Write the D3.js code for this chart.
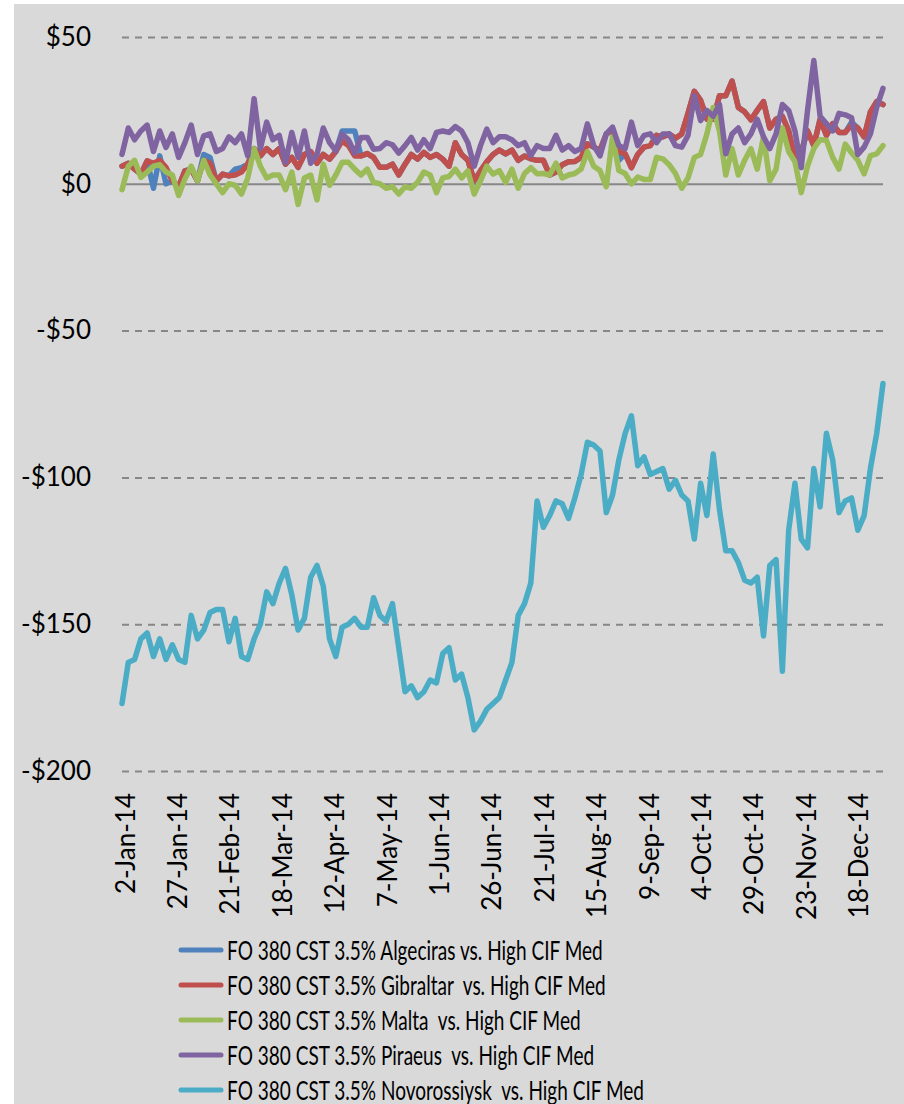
<!DOCTYPE html>
<html lang="en">
<head>
<meta charset="utf-8" />
<title>FO 380 CST 3.5% vs. High CIF Med</title>
<script src="https://d3js.org/d3.v7.min.js"></script>
<style>
    body { margin: 0; background: #fff; }
    svg text { font-family: Lato, "Liberation Sans", sans-serif; fill: #000; }
    .legend text { white-space: pre; }
</style>
</head>
<body>
<svg id="chart" width="904" height="1104"></svg>
<script>
    // sampled every 3 days, 2014
    const dates = [
        "01-02","01-05","01-08","01-11","01-14","01-17","01-20","01-23","01-26","01-29",
        "02-01","02-04","02-07","02-10","02-13","02-16","02-19","02-22","02-25","02-28",
        "03-03","03-06","03-09","03-12","03-15","03-18","03-21","03-24","03-27","03-30",
        "04-02","04-05","04-08","04-11","04-14","04-17","04-20","04-23","04-26","04-29",
        "05-02","05-05","05-08","05-11","05-14","05-17","05-20","05-23","05-26","05-29",
        "06-01","06-04","06-07","06-10","06-13","06-16","06-19","06-22","06-25","06-28",
        "07-01","07-04","07-07","07-10","07-13","07-16","07-19","07-22","07-25","07-28","07-31",
        "08-03","08-06","08-09","08-12","08-15","08-18","08-21","08-24","08-27","08-30",
        "09-02","09-05","09-08","09-11","09-14","09-17","09-20","09-23","09-26","09-29",
        "10-02","10-05","10-08","10-11","10-14","10-17","10-20","10-23","10-26","10-29",
        "11-01","11-04","11-07","11-10","11-13","11-16","11-19","11-22","11-25","11-28",
        "12-01","12-04","12-07","12-10","12-13","12-16","12-19","12-22","12-25","12-28","12-31"
    ];

    const algeciras = [
        6, 7, 5, 3.3, 7.8, -1.5, 9.5, 0, 1, -1,
        4.4, 5, 1, 10, 9, 1, 3.3, 2.7, 5, 5.5,
        6.7, 12, 9.5, 12, 10, 12, 6.7, 9, 5.6, 10,
        11, 7, 10, 8.4, 11, 18, 18, 18, 9.5, 10.3,
        9, 5.6, 5.6, 6.7, 3, 6.7, 10, 8.4, 10.7, 9,
        10, 8.4, 6, 14, 10, 8, 1, 4.4, 7.5, 10,
        11.5, 10.2, 11.5, 8, 9.5, 8.5, 8, 8, 3, 4,
        6.5, 7.5, 7.6, 9, 13.6, 12.5, 11.4, 17, 18.2, 8,
        10.2, 5.5, 10, 12.5, 13, 16.5, 16, 17, 15.5, 17,
        24, 31.5, 28.4, 22, 22, 30, 30, 35, 26, 24.5,
        21.8, 25, 28, 19, 22, 23, 18, 8.5, 11, 18,
        13, 22, 16.5, 20.5, 17.5, 17.5, 21, 19, 16, 24.5,
        28, 27
    ];

    const gibraltar = [
        6, 7, 5, 3.3, 7.8, 7, 8, 5.6, 1, -1,
        4.4, 5, 1, 8, 7, 1, 3.3, 2.7, 3, 4,
        6.7, 12, 9.5, 12, 10, 12, 6.7, 9, 5.6, 10,
        11, 7, 10, 8.4, 11, 14.6, 13, 9.5, 9.5, 10.3,
        9, 5.6, 5.6, 6.7, 3, 6.7, 10, 8.4, 10.7, 9,
        10, 8.4, 6, 14, 10, 8, 1, 4.4, 7.5, 10,
        11.5, 10.2, 11.5, 8, 9.5, 8.5, 8, 8, 3, 4,
        6.5, 7.5, 7.6, 9, 13.6, 12.5, 11.4, 17, 18.2, 11,
        10.2, 5.5, 10, 12.5, 13, 16.5, 16, 17, 15.5, 17,
        24, 31.5, 28.4, 22, 22, 30, 30, 35, 26, 24.5,
        21.8, 25, 28, 19, 22, 23, 18, 8.5, 11, 18,
        13, 22, 16.5, 20.5, 17.5, 17.5, 20, 19, 16, 24.5,
        28, 27
    ];

    const malta = [
        -2, 6, 8, 2.2, 4, 6, 6.5, 4, 3, -4,
        1.6, 6, 1, 8, 3, 0, -3, 0, -0.5, -3.5,
        2, 12, 6, 2, 3, 3, -2, 4, -7, 2,
        3, -5.5, 6.7, -0.5, 3, 7.3, 7.3, 5, 3, 5,
        0.5, 0, -1.5, -1, -3.5, -1, -1.5, 0.5, 4, 3,
        -3, 2, 2.5, 5, 2, 4.4, -3.5, 1, 6, 3.3,
        4.5, 0.5, 5, -1.5, 3.5, 5.5, 3.4, 3.5, 3, 7,
        2, 3, 3.5, 5, 11, 6, 4.5, -1, 16, 4.5,
        3.5, 0, 2.3, 1.5, 1.5, 9, 8.5, 6.5, 3.5, -1.5,
        2, 9, 10, 17, 26, 18, 3, 12, 3, 8,
        12, 5, 16, 1.1, 5, 19, 11, 7.5, -3, 6,
        12, 15, 14.8, 9, 5, 13.5, 10.5, 8, 3.4, 9.6,
        10.2, 13
    ];

    const piraeus = [
        10, 19, 15, 18, 20, 11, 18, 12.4, 17, 9,
        14, 20, 10, 16.3, 17, 11, 12, 16, 14, 17,
        9.5, 29, 12, 21, 15, 16.5, 7.3, 17.5, 9, 18,
        7, 10, 19, 14, 11.2, 17, 15, 10.5, 15.8, 15.8,
        11.8, 12, 14, 13.3, 10.5, 13, 15.8, 11.5, 15, 12,
        17.5, 18, 17.5, 19.5, 18, 14, 6, 13, 18.6, 14,
        16, 16, 15, 13, 14, 9.6, 13, 12, 12, 16.5,
        11.5, 13, 11, 12, 20.4, 13, 9.5, 17, 19.3, 13,
        12, 21, 13, 16.5, 17, 14, 17, 17, 13, 12.5,
        16.5, 30, 21.5, 25, 23, 27, 10.2, 17, 19, 14,
        17, 22, 16, 12, 17, 27, 25, 18, 5.5, 25,
        42, 23, 20.5, 18, 24, 23.5, 22.5, 10, 12.5, 17,
        26, 32.5
    ];

    const novorossiysk = [
        -177, -163, -162, -155, -153, -161, -155, -162, -157, -162,
        -163, -147, -155, -152, -146, -145, -145, -156, -148, -161,
        -162, -155, -150, -139, -143, -136, -131, -140, -152, -148,
        -134, -130, -137, -155, -161, -151, -150, -148, -151, -151,
        -141, -147, -149, -143, -158, -173, -171, -175, -173, -169,
        -170, -160, -158, -169, -167, -175, -186, -183, -179, -177,
        -175, -169, -163, -147, -143, -136, -108, -117, -113, -108,
        -109, -114, -107, -99, -88, -89, -91, -112, -106, -94,
        -85, -79, -96, -93, -99, -98, -97, -104, -101, -106,
        -108, -121, -102, -113, -92, -111, -125, -125, -129, -135,
        -136, -134, -154, -130, -128, -166, -118, -102, -121, -124,
        -97, -110, -85, -94, -112, -108, -107, -118, -113, -97,
        -85, -68
    ];

    const seriesNames = [
        "FO 380 CST 3.5% Algeciras vs. High CIF Med",
        "FO 380 CST 3.5% Gibraltar  vs. High CIF Med",
        "FO 380 CST 3.5% Malta  vs. High CIF Med",
        "FO 380 CST 3.5% Piraeus  vs. High CIF Med",
        "FO 380 CST 3.5% Novorossiysk  vs. High CIF Med"
    ];
    const seriesColors = ["#4f81bd", "#c0504d", "#9bbb59", "#8064a2", "#4bacc6"];
    const seriesValues = [algeciras, gibraltar, malta, piraeus, novorossiysk];

    const yTicks = [50, 0, -50, -100, -150, -200];
    const xTickLabels = ["2-Jan-14", "27-Jan-14", "21-Feb-14", "18-Mar-14", "12-Apr-14",
        "7-May-14", "1-Jun-14", "26-Jun-14", "21-Jul-14", "15-Aug-14", "9-Sep-14",
        "4-Oct-14", "29-Oct-14", "23-Nov-14", "18-Dec-14"];

    const parseDay = d3.timeParse("%Y-%m-%d");
    const parseTick = d3.timeParse("%d-%b-%y");
    const dateObjs = dates.map(d => parseDay("2014-" + d));

    const svg = d3.select("#chart");
    const width = 904, height = 1104;
    const plot = { left: 122, right: 883, top: 37, bottom: 771 };

    svg.append("rect")
        .attr("x", 14).attr("y", 4)
        .attr("width", width - 14).attr("height", height - 4)
        .attr("fill", "#d9d9d9");

    const x = d3.scaleTime()
        .domain([parseDay("2014-01-02"), parseDay("2014-12-31")])
        .range([plot.left, plot.right]);

    const y = d3.scaleLinear()
        .domain([-200, 50])
        .range([plot.bottom, plot.top]);

    // y axis + gridlines
    const yAxis = svg.append("g")
        .attr("transform", `translate(${plot.left},0)`)
        .call(d3.axisLeft(y)
            .tickValues(yTicks)
            .tickSize(-(plot.right - plot.left))
            .tickPadding(31)
            .tickFormat(d => d < 0 ? "-$" + (-d) : "$" + d));
    yAxis.select(".domain").remove();
    yAxis.attr("font-size", 26).attr("font-family", null);
    yAxis.selectAll(".tick line")
        .attr("stroke", "#878787")
        .attr("stroke-width", 2)
        .attr("stroke-dasharray", d => d === 0 ? null : "7,6");
    yAxis.selectAll(".tick text").attr("fill", "#000");

    // x axis labels
    const xAxis = svg.append("g")
        .attr("transform", `translate(0,${plot.bottom})`)
        .call(d3.axisBottom(x)
            .tickValues(xTickLabels.map(parseTick))
            .tickSize(0)
            .tickFormat(d3.timeFormat("%-d-%b-%y")));
    xAxis.select(".domain").remove();
    xAxis.attr("font-size", 26).attr("font-family", null);
    xAxis.selectAll(".tick text")
        .attr("transform", "rotate(-90)")
        .attr("text-anchor", "end")
        .attr("x", -22)
        .attr("y", 12)
        .attr("dy", null)
        .attr("fill", "#000");

    // series lines
    const line = d3.line()
        .x((d, i) => x(dateObjs[i]))
        .y(d => y(d));

    svg.append("g")
        .selectAll("path")
        .data(seriesValues)
        .join("path")
        .attr("d", line)
        .attr("fill", "none")
        .attr("stroke", (d, i) => seriesColors[i])
        .attr("stroke-width", 5.5)
        .attr("stroke-linejoin", "round")
        .attr("stroke-linecap", "round");

    // legend
    const legend = svg.append("g").attr("class", "legend");
    const rows = legend.selectAll("g")
        .data(seriesNames)
        .join("g")
        .attr("transform", (d, i) => `translate(0,${950 + i * 35})`);
    rows.append("line")
        .attr("x1", 181).attr("x2", 221)
        .attr("stroke", (d, i) => seriesColors[i])
        .attr("stroke-width", 5)
        .attr("stroke-linecap", "round");
    const labels = rows.append("text")
        .attr("dy", "0.36em")
        .style("font-size", "27px")
        .text(d => d);
    // squeeze legend text to the width the original shows
    const w0 = labels.node().getComputedTextLength();
    const k = 376 / w0;
    labels.attr("transform", `translate(227,0) scale(${k},1)`);
</script>
</body>
</html>
